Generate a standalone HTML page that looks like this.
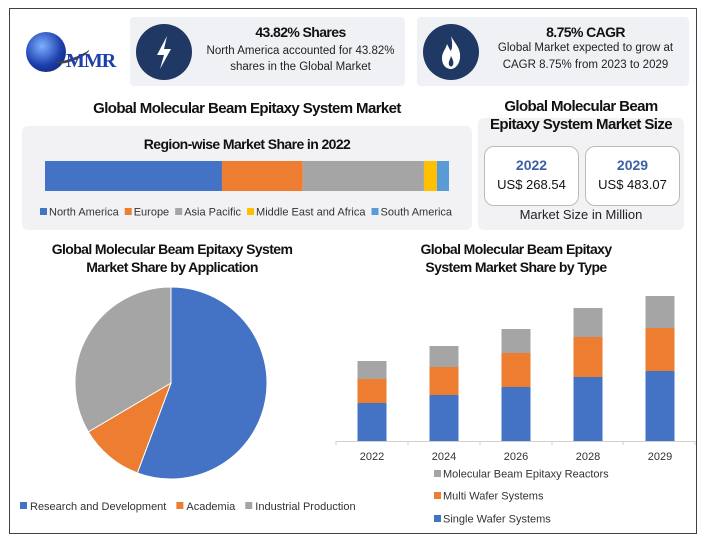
<!DOCTYPE html>
<html><head><meta charset="utf-8"><style>
body{margin:0;width:703px;height:546px;background:#fff;font-family:"Liberation Sans",sans-serif;position:relative;overflow:hidden}
.a{position:absolute}
.t{font-weight:bold;color:#111;letter-spacing:-0.6px;text-align:center}
</style></head><body>
<div class="a" style="left:9px;top:8px;width:686px;height:524px;border:1px solid #3a4150"></div>
<div class="a" style="left:20px;top:30px;width:104px;height:50px">
 <div class="a" style="left:6px;top:2px;width:40px;height:40px;border-radius:50%;background:radial-gradient(circle at 40% 35%,#7fb0ff,#1d3fae 55%,#0b1a55)"></div>
 <div class="a" style="left:34px;top:20px;width:36px;height:8px;border-radius:50%;border-bottom:3px solid #444;transform:rotate(-20deg)"></div>
 <div class="a" style="left:46px;top:20px;font-family:'Liberation Serif',serif;font-weight:bold;font-size:20px;letter-spacing:-1px;color:#1d3fae">MMR</div>
</div>
<div class="a" style="left:130px;top:17px;width:275px;height:69px;background:#f0f1f5;border-radius:4px">
 <div class="a" style="left:6px;top:7px;width:56px;height:56px;border-radius:50%;background:#1f3864">
  <svg width="56" height="56"><path d="M31 12 L21 31 L28 31 L24 45 L35 25 L28 25 Z" fill="#fff"/></svg></div>
 <div class="a t" style="left:68px;top:7px;width:205px;font-size:14px">43.82% Shares</div>
 <div class="a" style="left:66px;top:26px;width:209px;font-size:11.5px;line-height:16px;color:#222;text-align:center">North America accounted for 43.82% shares in the Global Market</div>
</div>
<div class="a" style="left:417px;top:17px;width:272px;height:69px;background:#f0f1f5;border-radius:4px">
 <div class="a" style="left:6px;top:7px;width:56px;height:56px;border-radius:50%;background:#1f3864">
  <svg width="56" height="56"><path d="M28 12 C32 20 38 24 37 34 C36 42 31 45 28 45 C24 45 19 42 19 34 C19 28 23 25 24 20 C26 24 27 26 28 27 C30 22 29 17 28 12 Z" fill="#fff"/><path d="M28 32 C30 36 31 38 30 41 C29 43 27 43 26 41 C25 38 27 36 28 32Z" fill="#1f3864"/></svg></div>
 <div class="a t" style="left:66px;top:7px;width:205px;font-size:14px">8.75% CAGR</div>
 <div class="a" style="left:64px;top:23px;width:209px;font-size:11.5px;line-height:17px;color:#222;text-align:center">Global Market expected to grow at CAGR 8.75% from 2023 to 2029</div>
</div>
<div class="a t" style="left:22px;top:100px;width:450px;font-size:15px">Global Molecular Beam Epitaxy System Market</div>
<div class="a" style="left:22px;top:126px;width:450px;height:104px;background:#f2f2f4;border-radius:6px"></div>
<div class="a t" style="left:22px;top:136px;width:450px;font-size:14px">Region-wise Market Share in 2022</div>
<div class="a" style="left:478px;top:118px;width:206px;height:112px;background:#f2f2f4;border-radius:6px"></div>
<div class="a t" style="left:486px;top:98px;width:190px;font-size:15px;line-height:18px">Global Molecular Beam Epitaxy System Market Size</div>
<div class="a" style="left:484px;top:146px;width:93px;height:58px;background:#fff;border:1px solid #bbb;border-radius:10px;text-align:center">
 <div style="margin-top:10px;font-weight:bold;font-size:14px;color:#3b5fa8">2022</div><div style="margin-top:4px;font-size:13px;color:#111">US$ 268.54</div></div>
<div class="a" style="left:585px;top:146px;width:93px;height:58px;background:#fff;border:1px solid #bbb;border-radius:10px;text-align:center">
 <div style="margin-top:10px;font-weight:bold;font-size:14px;color:#3b5fa8">2029</div><div style="margin-top:4px;font-size:13px;color:#111">US$ 483.07</div></div>
<div class="a" style="left:478px;top:207px;width:206px;text-align:center;font-size:13px;color:#222">Market Size in Million</div>
<div class="a t" style="left:42px;top:240px;width:260px;font-size:14px;line-height:18px">Global Molecular Beam Epitaxy System Market Share by Application</div>
<div class="a t" style="left:400px;top:240px;width:232px;font-size:14px;line-height:18px">Global Molecular Beam Epitaxy System Market Share by Type</div>
<svg class="a" id="svg" style="left:0;top:0" width="703" height="546" font-family="Liberation Sans, sans-serif"></svg>
<script>
const regions=["North America","Europe","Asia Pacific","Middle East and Africa","South America"];
const regionShares=[43.8,20.0,30.0,3.2,3.0];
const regionColors=["#4472c4","#ed7d31","#a5a5a5","#ffc000","#5b9bd5"];
const apps=["Research and Development","Academia","Industrial Production"];
const appShares=[55.7,10.8,33.5];
const appColors=["#4472c4","#ed7d31","#a5a5a5"];
const years=["2022","2024","2026","2028","2029"];
const single=[38,46,54,64,70];
const multi=[24,28,34,40,43];
const reactors=[18,21,24,29,32];
const svg=document.getElementById('svg');
const NS="http://www.w3.org/2000/svg";
function mk(tag,at,parent){const e=document.createElementNS(NS,tag);for(const k in at)e.setAttribute(k,at[k]);(parent||svg).appendChild(e);return e;}
const rx0=45,rw=404,total=regionShares.reduce((a,b)=>a+b,0);
let acc=0;
regionShares.forEach((v,i)=>{const r=mk('rect',{x:rx0+acc/total*rw,y:161,width:v/total*rw,height:30,fill:regionColors[i]});


acc+=v;});
let lx=40;
regions.forEach((n,i)=>{const s=mk('rect',{x:lx,y:208,width:7,height:7,fill:regionColors[i]});


const t=mk('text',{x:lx+9,y:215.5,'font-size':11,fill:'#333'});t.textContent=n;


lx+=9+t.getComputedTextLength()+6;});
const cx=171,cy=383,R=96;let a0=0;const ps=appShares.reduce((a,b)=>a+b,0);
appShares.forEach((v,i)=>{const a1=a0+v/ps*2*Math.PI;
const x0=cx+R*Math.sin(a0),y0=cy-R*Math.cos(a0),x1=cx+R*Math.sin(a1),y1=cy-R*Math.cos(a1);
const p=mk('path',{d:`M${cx},${cy}L${x0},${y0}A${R},${R} 0 ${a1-a0>Math.PI?1:0} 1 ${x1},${y1}Z`,fill:appColors[i],stroke:'#fff','stroke-width':1});


a0=a1;});
lx=20;
apps.forEach((n,i)=>{const s=mk('rect',{x:lx,y:502,width:7,height:7,fill:appColors[i]});


const t=mk('text',{x:lx+10,y:510,'font-size':11,fill:'#333'});t.textContent=n;


lx+=10+t.getComputedTextLength()+10;});
const base=441,centers=[372,444,516,588,660],bw=29;
const yScale=v=>v*1;
mk('line',{x1:336,y1:base+0.5,x2:695,y2:base+0.5,stroke:'#d0d0d0'});
[336,408,480,552,623,695].forEach(x=>mk('line',{x1:x,y1:base,x2:x,y2:base+4,stroke:'#d0d0d0'}));
years.forEach((y,i)=>{let top=base;
[[single,'#4472c4'],[multi,'#ed7d31'],[reactors,'#a5a5a5']].forEach(([arr,c],k)=>{const h=yScale(arr[i]);top-=h;
const r=mk('rect',{x:centers[i]-bw/2,y:top,width:bw,height:h,fill:c});

});
const t=mk('text',{x:centers[i],y:460,'font-size':11,'text-anchor':'middle',fill:'#333'});t.textContent=y;

});
[["Molecular Beam Epitaxy Reactors","#a5a5a5",476],["Multi Wafer Systems","#ed7d31",498],["Single Wafer Systems","#4472c4",521]].forEach(([n,c,y])=>{
const s=mk('rect',{x:434,y:y-6,width:7,height:7,fill:c});


const t=mk('text',{x:443,y:y+1.5,'font-size':11,fill:'#333'});t.textContent=n;

});
</script>
</body></html>
